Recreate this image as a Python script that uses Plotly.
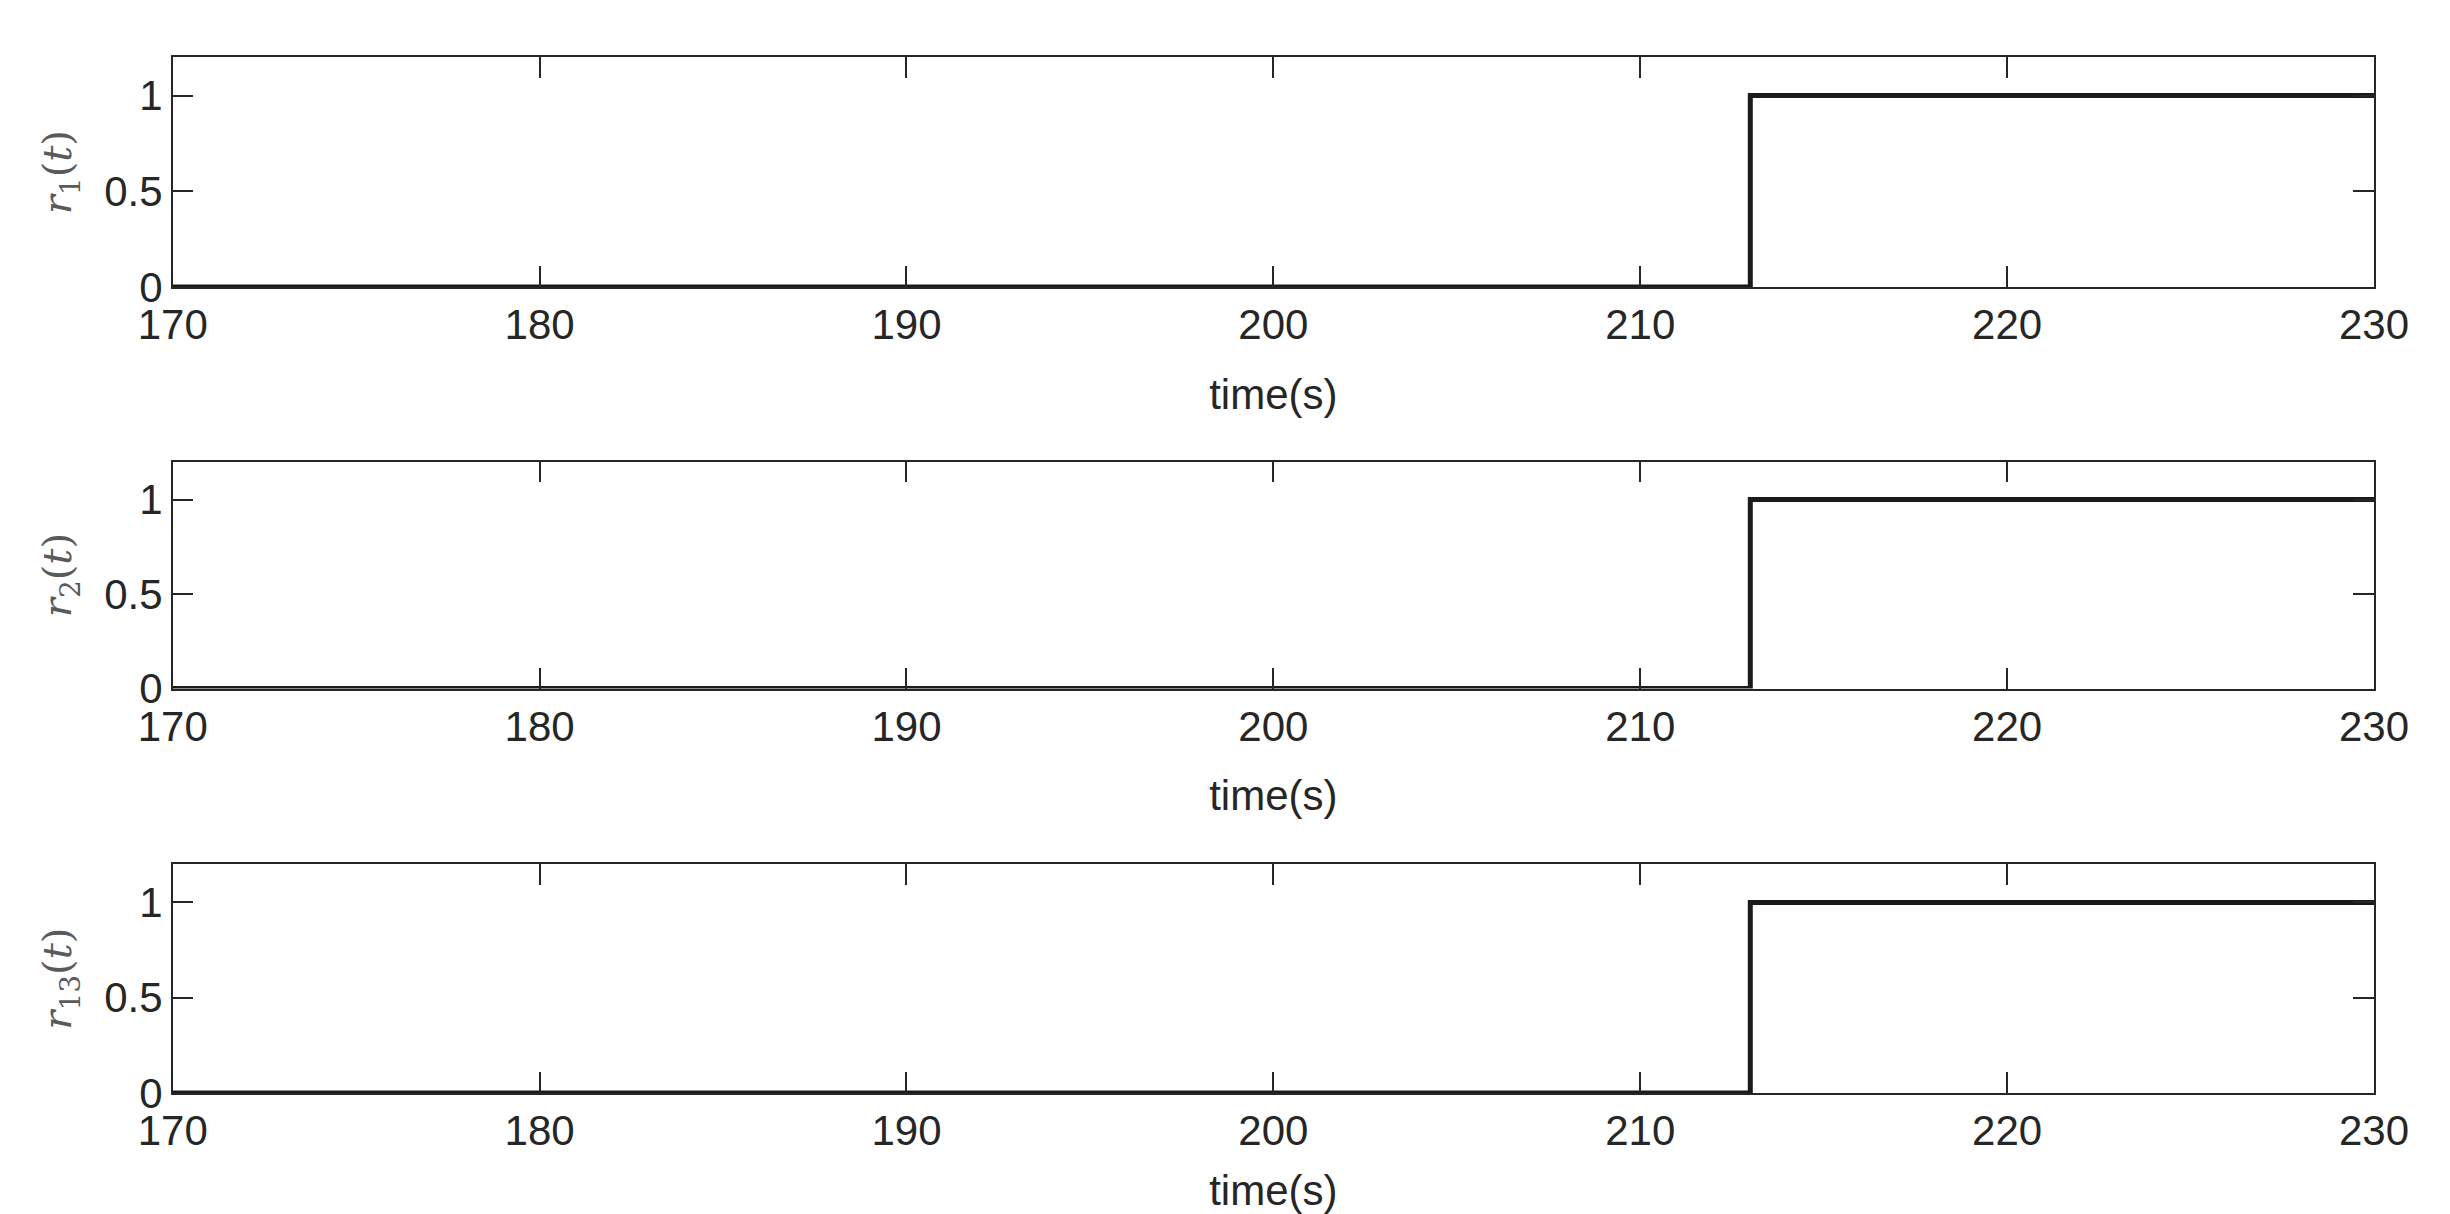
import plotly.graph_objects as go

# ---- data ----
time = [170, 213, 230]          # step switches at t = 213 s
r1 = [0, 1, 1]
r2 = [0, 1, 1]
r13 = [0, 1, 1]
series = [r1, r2, r13]
ylabels = ["<i>r</i><sub>1</sub>(<i>t</i>)",
           "<i>r</i><sub>2</sub>(<i>t</i>)",
           "<i>r</i><sub>13</sub>(<i>t</i>)"]
x_ticks = [170, 180, 190, 200, 210, 220, 230]
y_ticks = [0, 0.5, 1]
x_title = "time(s)"

W, H = 2450, 1214
# panel pixel bounds (top, bottom)
panels_px = [(57.3, 287.0), (461.7, 688.5), (864.3, 1093.0)]
x_left, x_right = 172.7, 2374.0

fig = go.Figure()
axis_col = "#262626"
tick_font = dict(family="Liberation Sans, Arial, sans-serif", size=42, color=axis_col)

for i, (vals, lab) in enumerate(zip(series, ylabels)):
    n = "" if i == 0 else str(i + 1)
    fig.add_trace(go.Scatter(x=time, y=vals, mode="lines", line_shape="hv",
                             line=dict(color="#1a1a1a", width=5),
                             xaxis="x" + n, yaxis="y" + n, showlegend=False))
    top, bot = panels_px[i]
    fig.layout["xaxis" + n] = dict(
        domain=[x_left / W, x_right / W], anchor="y" + n, automargin=False,
        range=[170, 230], tickvals=x_ticks, ticks="inside", ticklen=21,
        tickwidth=1.5, tickcolor=axis_col, showline=True, linecolor=axis_col,
        linewidth=1.5, mirror="ticks", showgrid=False, zeroline=False,
        tickfont=tick_font,
        title=dict(text=x_title, font=tick_font, standoff=32),
    )
    fig.layout["yaxis" + n] = dict(
        domain=[1 - bot / H, 1 - top / H], anchor="x" + n, automargin=False,
        range=[0, 1.2], tickvals=y_ticks, ticktext=["0", "0.5", "1"],
        ticks="inside", ticklen=21,
        tickwidth=1.5, tickcolor=axis_col, showline=True, linecolor=axis_col,
        linewidth=1.5, mirror="ticks", showgrid=False, zeroline=False,
        tickfont=tick_font,
        title=dict(text=lab, font=dict(family="DejaVu Serif, Liberation Serif, serif",
                                       size=40, color="#5a5a5a"), standoff=20),
    )

fig.update_layout(width=W, height=H, margin=dict(l=0, r=0, t=0, b=0),
                  paper_bgcolor="white", plot_bgcolor="white")
fig.write_html("out.html", config={"displayModeBar": False},
               post_script="document.body.style.margin='0';document.body.style.overflow='hidden';")
